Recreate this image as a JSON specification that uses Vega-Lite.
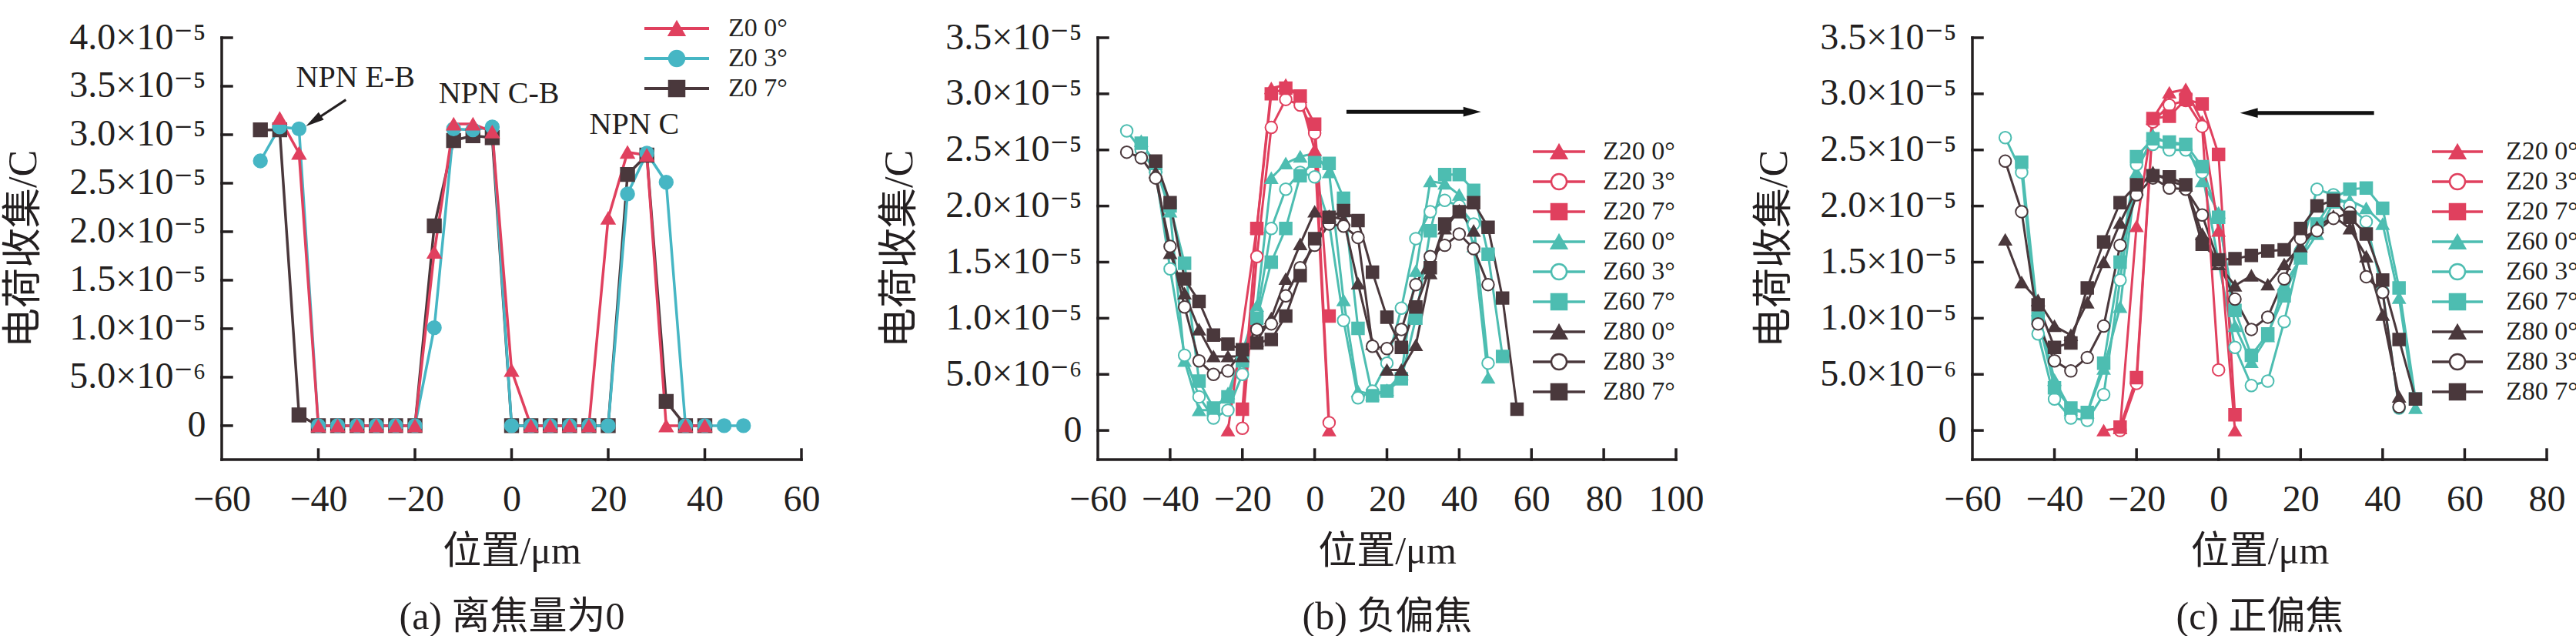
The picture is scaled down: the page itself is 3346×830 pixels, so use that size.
{
  "$schema": "https://vega.github.io/schema/vega-lite/v6.json",
  "background": "white",
  "padding": {"left": 4, "top": 20, "right": 0, "bottom": 0},
  "bounds": "flush",
  "spacing": 385,
  "datasets": {
    "a": [
      {"s":"Z0 7°","x":-52,"q":3.05},{"s":"Z0 7°","x":-48,"q":3.05},{"s":"Z0 7°","x":-44,"q":0.11},{"s":"Z0 7°","x":-40,"q":0},{"s":"Z0 7°","x":-36,"q":0},{"s":"Z0 7°","x":-32,"q":0},{"s":"Z0 7°","x":-28,"q":0},{"s":"Z0 7°","x":-24,"q":0},{"s":"Z0 7°","x":-20,"q":0},{"s":"Z0 7°","x":-16,"q":2.06},{"s":"Z0 7°","x":-12,"q":2.94},{"s":"Z0 7°","x":-8,"q":2.99},{"s":"Z0 7°","x":-4,"q":2.97},{"s":"Z0 7°","x":0,"q":0},{"s":"Z0 7°","x":4,"q":0},{"s":"Z0 7°","x":8,"q":0},{"s":"Z0 7°","x":12,"q":0},{"s":"Z0 7°","x":16,"q":0},{"s":"Z0 7°","x":20,"q":0},{"s":"Z0 7°","x":24,"q":2.59},{"s":"Z0 7°","x":28,"q":2.79},{"s":"Z0 7°","x":32,"q":0.25},{"s":"Z0 7°","x":36,"q":0},{"s":"Z0 7°","x":40,"q":0},
      {"s":"Z0 3°","x":-52,"q":2.73},{"s":"Z0 3°","x":-48,"q":3.08},{"s":"Z0 3°","x":-44,"q":3.06},{"s":"Z0 3°","x":-40,"q":0},{"s":"Z0 3°","x":-36,"q":0},{"s":"Z0 3°","x":-32,"q":0},{"s":"Z0 3°","x":-28,"q":0},{"s":"Z0 3°","x":-24,"q":0},{"s":"Z0 3°","x":-20,"q":0},{"s":"Z0 3°","x":-16,"q":1.01},{"s":"Z0 3°","x":-12,"q":3.06},{"s":"Z0 3°","x":-8,"q":3.05},{"s":"Z0 3°","x":-4,"q":3.08},{"s":"Z0 3°","x":0,"q":0},{"s":"Z0 3°","x":4,"q":0},{"s":"Z0 3°","x":8,"q":0},{"s":"Z0 3°","x":12,"q":0},{"s":"Z0 3°","x":16,"q":0},{"s":"Z0 3°","x":20,"q":0},{"s":"Z0 3°","x":24,"q":2.39},{"s":"Z0 3°","x":28,"q":2.81},{"s":"Z0 3°","x":32,"q":2.51},{"s":"Z0 3°","x":36,"q":0},{"s":"Z0 3°","x":40,"q":0},{"s":"Z0 3°","x":44,"q":0},{"s":"Z0 3°","x":48,"q":0},
      {"s":"Z0 0°","x":-48,"q":3.17},{"s":"Z0 0°","x":-44,"q":2.81},{"s":"Z0 0°","x":-40,"q":0},{"s":"Z0 0°","x":-36,"q":0},{"s":"Z0 0°","x":-32,"q":0},{"s":"Z0 0°","x":-28,"q":0},{"s":"Z0 0°","x":-24,"q":0},{"s":"Z0 0°","x":-20,"q":0},{"s":"Z0 0°","x":-16,"q":1.79},{"s":"Z0 0°","x":-12,"q":3.11},{"s":"Z0 0°","x":-8,"q":3.11},{"s":"Z0 0°","x":-4,"q":3.03},{"s":"Z0 0°","x":0,"q":0.57},{"s":"Z0 0°","x":4,"q":0},{"s":"Z0 0°","x":8,"q":0},{"s":"Z0 0°","x":12,"q":0},{"s":"Z0 0°","x":16,"q":0},{"s":"Z0 0°","x":20,"q":2.14},{"s":"Z0 0°","x":24,"q":2.82},{"s":"Z0 0°","x":28,"q":2.79},{"s":"Z0 0°","x":32,"q":0},{"s":"Z0 0°","x":36,"q":0},{"s":"Z0 0°","x":40,"q":0}
    ],
    "b": [
      {"s":"Z60 0°","x":-48,"q":2.58},{"s":"Z60 0°","x":-44,"q":2.35},{"s":"Z60 0°","x":-40,"q":1.95},{"s":"Z60 0°","x":-36,"q":0.62},{"s":"Z60 0°","x":-32,"q":0.18},{"s":"Z60 0°","x":-28,"q":0.18},{"s":"Z60 0°","x":-24,"q":0.33},{"s":"Z60 0°","x":-20,"q":0.7},{"s":"Z60 0°","x":-16,"q":1.11},{"s":"Z60 0°","x":-12,"q":2.25},{"s":"Z60 0°","x":-8,"q":2.38},{"s":"Z60 0°","x":-4,"q":2.44},{"s":"Z60 0°","x":0,"q":2.47},{"s":"Z60 0°","x":4,"q":2.3},{"s":"Z60 0°","x":8,"q":1.16},{"s":"Z60 0°","x":12,"q":0.35},{"s":"Z60 0°","x":16,"q":0.32},{"s":"Z60 0°","x":20,"q":0.36},{"s":"Z60 0°","x":24,"q":0.5},{"s":"Z60 0°","x":28,"q":1.42},{"s":"Z60 0°","x":32,"q":2.22},{"s":"Z60 0°","x":36,"q":2.2},{"s":"Z60 0°","x":40,"q":2.1},{"s":"Z60 0°","x":44,"q":1.64},{"s":"Z60 0°","x":48,"q":0.47},
      {"s":"Z60 3°","x":-52,"q":2.67},{"s":"Z60 3°","x":-48,"q":2.5},{"s":"Z60 3°","x":-44,"q":2.3},{"s":"Z60 3°","x":-40,"q":1.44},{"s":"Z60 3°","x":-36,"q":0.67},{"s":"Z60 3°","x":-32,"q":0.3},{"s":"Z60 3°","x":-28,"q":0.11},{"s":"Z60 3°","x":-24,"q":0.18},{"s":"Z60 3°","x":-20,"q":0.5},{"s":"Z60 3°","x":-16,"q":1.02},{"s":"Z60 3°","x":-12,"q":1.8},{"s":"Z60 3°","x":-8,"q":2.15},{"s":"Z60 3°","x":-4,"q":2.3},{"s":"Z60 3°","x":0,"q":2.26},{"s":"Z60 3°","x":4,"q":1.85},{"s":"Z60 3°","x":8,"q":0.98},{"s":"Z60 3°","x":12,"q":0.29},{"s":"Z60 3°","x":16,"q":0.35},{"s":"Z60 3°","x":20,"q":0.6},{"s":"Z60 3°","x":24,"q":1.09},{"s":"Z60 3°","x":28,"q":1.71},{"s":"Z60 3°","x":32,"q":1.95},{"s":"Z60 3°","x":36,"q":2.05},{"s":"Z60 3°","x":40,"q":2.0},{"s":"Z60 3°","x":44,"q":1.84},{"s":"Z60 3°","x":48,"q":0.6},
      {"s":"Z60 7°","x":-48,"q":2.56},{"s":"Z60 7°","x":-44,"q":2.38},{"s":"Z60 7°","x":-40,"q":2.0},{"s":"Z60 7°","x":-36,"q":1.49},{"s":"Z60 7°","x":-32,"q":0.44},{"s":"Z60 7°","x":-28,"q":0.2},{"s":"Z60 7°","x":-24,"q":0.3},{"s":"Z60 7°","x":-20,"q":0.62},{"s":"Z60 7°","x":-16,"q":1.0},{"s":"Z60 7°","x":-12,"q":1.5},{"s":"Z60 7°","x":-8,"q":1.8},{"s":"Z60 7°","x":-4,"q":2.27},{"s":"Z60 7°","x":0,"q":2.4},{"s":"Z60 7°","x":4,"q":2.38},{"s":"Z60 7°","x":8,"q":2.07},{"s":"Z60 7°","x":12,"q":0.91},{"s":"Z60 7°","x":16,"q":0.31},{"s":"Z60 7°","x":20,"q":0.35},{"s":"Z60 7°","x":24,"q":0.46},{"s":"Z60 7°","x":28,"q":1.0},{"s":"Z60 7°","x":32,"q":1.78},{"s":"Z60 7°","x":36,"q":2.28},{"s":"Z60 7°","x":40,"q":2.28},{"s":"Z60 7°","x":44,"q":2.14},{"s":"Z60 7°","x":48,"q":1.57},{"s":"Z60 7°","x":52,"q":0.66},
      {"s":"Z80 0°","x":-44,"q":2.3},{"s":"Z80 0°","x":-40,"q":1.58},{"s":"Z80 0°","x":-36,"q":1.22},{"s":"Z80 0°","x":-32,"q":0.9},{"s":"Z80 0°","x":-28,"q":0.66},{"s":"Z80 0°","x":-24,"q":0.66},{"s":"Z80 0°","x":-20,"q":0.66},{"s":"Z80 0°","x":-16,"q":0.8},{"s":"Z80 0°","x":-12,"q":1.0},{"s":"Z80 0°","x":-8,"q":1.35},{"s":"Z80 0°","x":-4,"q":1.66},{"s":"Z80 0°","x":0,"q":1.95},{"s":"Z80 0°","x":4,"q":1.91},{"s":"Z80 0°","x":8,"q":1.88},{"s":"Z80 0°","x":12,"q":1.31},{"s":"Z80 0°","x":16,"q":0.77},{"s":"Z80 0°","x":20,"q":0.54},{"s":"Z80 0°","x":24,"q":0.54},{"s":"Z80 0°","x":28,"q":0.76},{"s":"Z80 0°","x":32,"q":1.4},{"s":"Z80 0°","x":36,"q":1.8},{"s":"Z80 0°","x":40,"q":1.96},{"s":"Z80 0°","x":44,"q":1.78},
      {"s":"Z80 3°","x":-52,"q":2.48},{"s":"Z80 3°","x":-48,"q":2.43},{"s":"Z80 3°","x":-44,"q":2.25},{"s":"Z80 3°","x":-40,"q":1.64},{"s":"Z80 3°","x":-36,"q":1.1},{"s":"Z80 3°","x":-32,"q":0.62},{"s":"Z80 3°","x":-28,"q":0.5},{"s":"Z80 3°","x":-24,"q":0.53},{"s":"Z80 3°","x":-20,"q":0.72},{"s":"Z80 3°","x":-16,"q":0.9},{"s":"Z80 3°","x":-12,"q":0.95},{"s":"Z80 3°","x":-8,"q":1.2},{"s":"Z80 3°","x":-4,"q":1.45},{"s":"Z80 3°","x":0,"q":1.65},{"s":"Z80 3°","x":4,"q":1.84},{"s":"Z80 3°","x":8,"q":1.82},{"s":"Z80 3°","x":12,"q":1.72},{"s":"Z80 3°","x":16,"q":0.75},{"s":"Z80 3°","x":20,"q":0.73},{"s":"Z80 3°","x":24,"q":0.9},{"s":"Z80 3°","x":28,"q":1.3},{"s":"Z80 3°","x":32,"q":1.55},{"s":"Z80 3°","x":36,"q":1.65},{"s":"Z80 3°","x":40,"q":1.75},{"s":"Z80 3°","x":44,"q":1.62},{"s":"Z80 3°","x":48,"q":1.3},
      {"s":"Z80 7°","x":-44,"q":2.4},{"s":"Z80 7°","x":-40,"q":2.03},{"s":"Z80 7°","x":-36,"q":1.35},{"s":"Z80 7°","x":-32,"q":1.15},{"s":"Z80 7°","x":-28,"q":0.85},{"s":"Z80 7°","x":-24,"q":0.77},{"s":"Z80 7°","x":-20,"q":0.72},{"s":"Z80 7°","x":-16,"q":0.78},{"s":"Z80 7°","x":-12,"q":0.81},{"s":"Z80 7°","x":-8,"q":1.02},{"s":"Z80 7°","x":-4,"q":1.38},{"s":"Z80 7°","x":0,"q":1.71},{"s":"Z80 7°","x":4,"q":1.9},{"s":"Z80 7°","x":8,"q":1.96},{"s":"Z80 7°","x":12,"q":1.87},{"s":"Z80 7°","x":16,"q":1.41},{"s":"Z80 7°","x":20,"q":1.01},{"s":"Z80 7°","x":24,"q":0.74},{"s":"Z80 7°","x":28,"q":1.1},{"s":"Z80 7°","x":32,"q":1.45},{"s":"Z80 7°","x":36,"q":1.84},{"s":"Z80 7°","x":40,"q":1.95},{"s":"Z80 7°","x":44,"q":2.03},{"s":"Z80 7°","x":48,"q":1.81},{"s":"Z80 7°","x":52,"q":1.18},{"s":"Z80 7°","x":56,"q":0.19},
      {"s":"Z20 0°","x":-24,"q":0},{"s":"Z20 0°","x":-16,"q":1.81},{"s":"Z20 0°","x":-12,"q":3.05},{"s":"Z20 0°","x":-8,"q":3.08},{"s":"Z20 0°","x":-4,"q":2.97},{"s":"Z20 0°","x":0,"q":2.5},{"s":"Z20 0°","x":4,"q":0},
      {"s":"Z20 3°","x":-20,"q":0.02},{"s":"Z20 3°","x":-16,"q":1.55},{"s":"Z20 3°","x":-12,"q":2.7},{"s":"Z20 3°","x":-8,"q":2.95},{"s":"Z20 3°","x":-4,"q":2.9},{"s":"Z20 3°","x":0,"q":2.65},{"s":"Z20 3°","x":4,"q":0.07},
      {"s":"Z20 7°","x":-20,"q":0.19},{"s":"Z20 7°","x":-16,"q":1.8},{"s":"Z20 7°","x":-12,"q":3.0},{"s":"Z20 7°","x":-8,"q":3.05},{"s":"Z20 7°","x":-4,"q":2.98},{"s":"Z20 7°","x":0,"q":2.73},{"s":"Z20 7°","x":4,"q":1.02}
    ],
    "c": [
      {"s":"Z60 0°","x":-44,"q":1.07},{"s":"Z60 0°","x":-40,"q":0.45},{"s":"Z60 0°","x":-36,"q":0.18},{"s":"Z60 0°","x":-32,"q":0.16},{"s":"Z60 0°","x":-28,"q":0.55},{"s":"Z60 0°","x":-24,"q":1.1},{"s":"Z60 0°","x":-20,"q":2.3},{"s":"Z60 0°","x":-16,"q":2.63},{"s":"Z60 0°","x":-12,"q":2.55},{"s":"Z60 0°","x":-8,"q":2.55},{"s":"Z60 0°","x":-4,"q":2.22},{"s":"Z60 0°","x":0,"q":1.94},{"s":"Z60 0°","x":4,"q":0.93},{"s":"Z60 0°","x":8,"q":0.61},{"s":"Z60 0°","x":12,"q":0.84},{"s":"Z60 0°","x":16,"q":1.3},{"s":"Z60 0°","x":20,"q":1.53},{"s":"Z60 0°","x":24,"q":1.75},{"s":"Z60 0°","x":28,"q":2.03},{"s":"Z60 0°","x":32,"q":2.05},{"s":"Z60 0°","x":36,"q":1.98},{"s":"Z60 0°","x":40,"q":1.84},{"s":"Z60 0°","x":44,"q":1.18},{"s":"Z60 0°","x":48,"q":0.2},
      {"s":"Z60 3°","x":-52,"q":2.61},{"s":"Z60 3°","x":-48,"q":2.3},{"s":"Z60 3°","x":-44,"q":0.86},{"s":"Z60 3°","x":-40,"q":0.28},{"s":"Z60 3°","x":-36,"q":0.11},{"s":"Z60 3°","x":-32,"q":0.09},{"s":"Z60 3°","x":-28,"q":0.32},{"s":"Z60 3°","x":-24,"q":1.34},{"s":"Z60 3°","x":-20,"q":2.37},{"s":"Z60 3°","x":-16,"q":2.55},{"s":"Z60 3°","x":-12,"q":2.5},{"s":"Z60 3°","x":-8,"q":2.5},{"s":"Z60 3°","x":-4,"q":2.3},{"s":"Z60 3°","x":0,"q":1.5},{"s":"Z60 3°","x":4,"q":0.74},{"s":"Z60 3°","x":8,"q":0.4},{"s":"Z60 3°","x":12,"q":0.44},{"s":"Z60 3°","x":16,"q":0.97},{"s":"Z60 3°","x":20,"q":1.6},{"s":"Z60 3°","x":24,"q":2.15},{"s":"Z60 3°","x":28,"q":2.1},{"s":"Z60 3°","x":32,"q":2.0},{"s":"Z60 3°","x":36,"q":1.86},{"s":"Z60 3°","x":40,"q":1.24},{"s":"Z60 3°","x":44,"q":0.2},
      {"s":"Z60 7°","x":-48,"q":2.39},{"s":"Z60 7°","x":-44,"q":1.0},{"s":"Z60 7°","x":-40,"q":0.38},{"s":"Z60 7°","x":-36,"q":0.2},{"s":"Z60 7°","x":-32,"q":0.16},{"s":"Z60 7°","x":-28,"q":0.6},{"s":"Z60 7°","x":-24,"q":1.5},{"s":"Z60 7°","x":-20,"q":2.44},{"s":"Z60 7°","x":-16,"q":2.6},{"s":"Z60 7°","x":-12,"q":2.57},{"s":"Z60 7°","x":-8,"q":2.55},{"s":"Z60 7°","x":-4,"q":2.35},{"s":"Z60 7°","x":0,"q":1.9},{"s":"Z60 7°","x":4,"q":1.07},{"s":"Z60 7°","x":8,"q":0.67},{"s":"Z60 7°","x":12,"q":0.86},{"s":"Z60 7°","x":16,"q":1.2},{"s":"Z60 7°","x":20,"q":1.55},{"s":"Z60 7°","x":24,"q":1.84},{"s":"Z60 7°","x":28,"q":2.07},{"s":"Z60 7°","x":32,"q":2.15},{"s":"Z60 7°","x":36,"q":2.16},{"s":"Z60 7°","x":40,"q":1.98},{"s":"Z60 7°","x":44,"q":1.27},{"s":"Z60 7°","x":48,"q":0.28},
      {"s":"Z80 0°","x":-52,"q":1.7},{"s":"Z80 0°","x":-48,"q":1.32},{"s":"Z80 0°","x":-44,"q":1.16},{"s":"Z80 0°","x":-40,"q":0.93},{"s":"Z80 0°","x":-36,"q":0.85},{"s":"Z80 0°","x":-32,"q":1.14},{"s":"Z80 0°","x":-28,"q":1.5},{"s":"Z80 0°","x":-24,"q":1.85},{"s":"Z80 0°","x":-20,"q":2.15},{"s":"Z80 0°","x":-16,"q":2.3},{"s":"Z80 0°","x":-12,"q":2.22},{"s":"Z80 0°","x":-8,"q":2.18},{"s":"Z80 0°","x":-4,"q":1.75},{"s":"Z80 0°","x":0,"q":1.48},{"s":"Z80 0°","x":4,"q":1.29},{"s":"Z80 0°","x":8,"q":1.38},{"s":"Z80 0°","x":12,"q":1.3},{"s":"Z80 0°","x":16,"q":1.48},{"s":"Z80 0°","x":20,"q":1.64},{"s":"Z80 0°","x":24,"q":1.81},{"s":"Z80 0°","x":28,"q":1.91},{"s":"Z80 0°","x":32,"q":1.8},{"s":"Z80 0°","x":36,"q":1.55},{"s":"Z80 0°","x":40,"q":1.03},{"s":"Z80 0°","x":44,"q":0.3},
      {"s":"Z80 3°","x":-52,"q":2.4},{"s":"Z80 3°","x":-48,"q":1.95},{"s":"Z80 3°","x":-44,"q":0.95},{"s":"Z80 3°","x":-40,"q":0.62},{"s":"Z80 3°","x":-36,"q":0.53},{"s":"Z80 3°","x":-32,"q":0.65},{"s":"Z80 3°","x":-28,"q":0.93},{"s":"Z80 3°","x":-24,"q":1.65},{"s":"Z80 3°","x":-20,"q":2.1},{"s":"Z80 3°","x":-16,"q":2.25},{"s":"Z80 3°","x":-12,"q":2.16},{"s":"Z80 3°","x":-8,"q":2.15},{"s":"Z80 3°","x":-4,"q":1.92},{"s":"Z80 3°","x":0,"q":1.5},{"s":"Z80 3°","x":4,"q":1.17},{"s":"Z80 3°","x":8,"q":0.9},{"s":"Z80 3°","x":12,"q":1.01},{"s":"Z80 3°","x":16,"q":1.35},{"s":"Z80 3°","x":20,"q":1.71},{"s":"Z80 3°","x":24,"q":1.78},{"s":"Z80 3°","x":28,"q":1.89},{"s":"Z80 3°","x":32,"q":1.94},{"s":"Z80 3°","x":36,"q":1.37},{"s":"Z80 3°","x":40,"q":1.23},{"s":"Z80 3°","x":44,"q":0.21},
      {"s":"Z80 7°","x":-44,"q":1.12},{"s":"Z80 7°","x":-40,"q":0.74},{"s":"Z80 7°","x":-36,"q":0.78},{"s":"Z80 7°","x":-32,"q":1.27},{"s":"Z80 7°","x":-28,"q":1.68},{"s":"Z80 7°","x":-24,"q":2.03},{"s":"Z80 7°","x":-20,"q":2.19},{"s":"Z80 7°","x":-16,"q":2.27},{"s":"Z80 7°","x":-12,"q":2.26},{"s":"Z80 7°","x":-8,"q":2.19},{"s":"Z80 7°","x":-4,"q":1.66},{"s":"Z80 7°","x":0,"q":1.52},{"s":"Z80 7°","x":4,"q":1.53},{"s":"Z80 7°","x":8,"q":1.56},{"s":"Z80 7°","x":12,"q":1.6},{"s":"Z80 7°","x":16,"q":1.61},{"s":"Z80 7°","x":20,"q":1.8},{"s":"Z80 7°","x":24,"q":2.0},{"s":"Z80 7°","x":28,"q":2.05},{"s":"Z80 7°","x":32,"q":1.9},{"s":"Z80 7°","x":36,"q":1.75},{"s":"Z80 7°","x":40,"q":1.34},{"s":"Z80 7°","x":44,"q":0.81},{"s":"Z80 7°","x":48,"q":0.28},
      {"s":"Z20 0°","x":-28,"q":0},{"s":"Z20 0°","x":-24,"q":0.02},{"s":"Z20 0°","x":-20,"q":1.82},{"s":"Z20 0°","x":-16,"q":2.78},{"s":"Z20 0°","x":-12,"q":3.01},{"s":"Z20 0°","x":-8,"q":3.04},{"s":"Z20 0°","x":-4,"q":2.75},{"s":"Z20 0°","x":0,"q":1.78},{"s":"Z20 0°","x":4,"q":0},
      {"s":"Z20 3°","x":-24,"q":0},{"s":"Z20 3°","x":-20,"q":0.42},{"s":"Z20 3°","x":-16,"q":2.75},{"s":"Z20 3°","x":-12,"q":2.9},{"s":"Z20 3°","x":-8,"q":2.94},{"s":"Z20 3°","x":-4,"q":2.71},{"s":"Z20 3°","x":0,"q":0.54},
      {"s":"Z20 7°","x":-24,"q":0.03},{"s":"Z20 7°","x":-20,"q":0.47},{"s":"Z20 7°","x":-16,"q":2.78},{"s":"Z20 7°","x":-12,"q":2.8},{"s":"Z20 7°","x":-8,"q":2.95},{"s":"Z20 7°","x":-4,"q":2.91},{"s":"Z20 7°","x":0,"q":2.46},{"s":"Z20 7°","x":4,"q":0.14}
    ]
  },
  "resolve": {"scale": {"color": "independent", "stroke": "independent", "fill": "independent", "shape": "independent"}},
  "hconcat": [
    {
      "width": 753,
      "height": 548,
      "encoding": {
        "x": {"field": "x", "type": "quantitative", "scale": {"domain": [-60, 60], "nice": false, "zero": false}, "axis": {"values": [-60, -40, -20, 0, 20, 40, 60], "title": ["位置/μm", "(a) 离焦量为0"]}},
        "y": {"field": "q", "type": "quantitative", "scale": {"domain": [-0.35, 4.0], "nice": false, "zero": false}, "axis": {"values": [0, 0.5, 1, 1.5, 2, 2.5, 3, 3.5, 4], "title": "电荷收集/C", "labelExpr": "datum.value == 0 ? '0' : datum.value < 0.9 ? format(datum.value * 10, '.1f') + '×10⁻⁶' : format(datum.value, '.1f') + '×10⁻⁵'"}}
      },
      "layer": [
        {
          "data": {"values": [
            {"x": -60, "q": -0.35, "xe": -60, "qe": 4.0}, {"x": -60, "q": -0.35, "xe": 60, "qe": -0.35},
            {"x": -40, "q": -0.35, "xe": -40, "qe": -0.247}, {"x": -20, "q": -0.35, "xe": -20, "qe": -0.247}, {"x": 0, "q": -0.35, "xe": 0, "qe": -0.247}, {"x": 20, "q": -0.35, "xe": 20, "qe": -0.247}, {"x": 40, "q": -0.35, "xe": 40, "qe": -0.247}, {"x": 60, "q": -0.35, "xe": 60, "qe": -0.247},
            {"x": -60, "q": 0, "xe": -57.93, "qe": 0}, {"x": -60, "q": 0.5, "xe": -57.93, "qe": 0.5}, {"x": -60, "q": 1, "xe": -57.93, "qe": 1}, {"x": -60, "q": 1.5, "xe": -57.93, "qe": 1.5}, {"x": -60, "q": 2, "xe": -57.93, "qe": 2}, {"x": -60, "q": 2.5, "xe": -57.93, "qe": 2.5}, {"x": -60, "q": 3, "xe": -57.93, "qe": 3}, {"x": -60, "q": 3.5, "xe": -57.93, "qe": 3.5}, {"x": -60, "q": 4, "xe": -57.93, "qe": 4}
          ]},
          "mark": {"type": "rule", "strokeWidth": 3.5, "color": "#231f20", "strokeCap": "square"},
          "encoding": {"x2": {"field": "xe"}, "y2": {"field": "qe"}}
        },
        {
          "data": {"name": "a"},
          "mark": {"type": "line", "strokeWidth": 3.5},
          "encoding": {
            "color": {"field": "s", "type": "nominal", "scale": {"domain": ["Z0 7°", "Z0 3°", "Z0 0°"], "range": ["#4a383c", "#46b6c4", "#e0405e"]},
              "legend": {"orient": "none", "legendX": 574, "legendY": -29, "labelOffset": 50, "values": ["Z0 0°", "Z0 3°", "Z0 7°"], "symbolType": "M-4.2,0L4.2,0", "symbolStrokeWidth": 4, "labelOpacity": 0}}
          }
        },
        {
          "data": {"name": "a"},
          "mark": {"type": "point", "filled": true, "size": 320, "strokeWidth": 1.5, "opacity": 1},
          "encoding": {
            "stroke": {"field": "s", "type": "nominal", "scale": {"domain": ["Z0 0°", "Z0 3°", "Z0 7°"], "range": ["#e0405e", "#46b6c4", "#4a383c"]},
              "legend": {"orient": "none", "legendX": 574, "legendY": -29, "labelOffset": 50}},
            "fill": {"field": "s", "type": "nominal", "scale": {"domain": ["Z0 0°", "Z0 3°", "Z0 7°"], "range": ["#e0405e", "#46b6c4", "#4a383c"]}},
            "shape": {"field": "s", "type": "nominal", "scale": {"domain": ["Z0 0°", "Z0 3°", "Z0 7°"], "range": ["triangle-up", "circle", "square"]}}
          }
        },
        {
          "data": {"values": [{"t": "NPN E-B", "x": -32.3, "q": 3.59}, {"t": "NPN C-B", "x": -2.6, "q": 3.42}, {"t": "NPN C", "x": 25.4, "q": 3.1}]},
          "mark": {"type": "text", "font": "Liberation Serif", "fontSize": 40, "color": "#231f20", "baseline": "middle"},
          "encoding": {"text": {"field": "t"}}
        },
        {
          "data": {"values": [{"x": -34.3, "q": 3.36, "xe": -41.0, "qe": 3.14}]},
          "mark": {"type": "rule", "strokeWidth": 3, "color": "#231f20"},
          "encoding": {"x2": {"field": "xe"}, "y2": {"field": "qe"}}
        },
        {
          "data": {"values": [{"x": -41.0, "q": 3.14}]},
          "mark": {"type": "point", "shape": "M1,0L-1,-0.5L-1,0.5Z", "filled": true, "color": "#231f20", "size": 576, "angle": 146, "opacity": 1},
          "encoding": {}
        }
      ]
    },
    {
      "width": 751,
      "height": 548,
      "encoding": {
        "x": {"field": "x", "type": "quantitative", "scale": {"domain": [-60, 100], "nice": false, "zero": false}, "axis": {"values": [-60, -40, -20, 0, 20, 40, 60, 80, 100], "title": ["位置/μm", "(b) 负偏焦"]}},
        "y": {"field": "q", "type": "quantitative", "scale": {"domain": [-0.26, 3.5], "nice": false, "zero": false}, "axis": {"values": [0, 0.5, 1, 1.5, 2, 2.5, 3, 3.5], "title": "电荷收集/C", "labelExpr": "datum.value == 0 ? '0' : datum.value < 0.9 ? format(datum.value * 10, '.1f') + '×10⁻⁶' : format(datum.value, '.1f') + '×10⁻⁵'"}}
      },
      "layer": [
        {
          "data": {"values": [
            {"x": -60, "q": -0.26, "xe": -60, "qe": 3.5}, {"x": -60, "q": -0.26, "xe": 100, "qe": -0.26},
            {"x": -40, "q": -0.26, "xe": -40, "qe": -0.171}, {"x": -20, "q": -0.26, "xe": -20, "qe": -0.171}, {"x": 0, "q": -0.26, "xe": 0, "qe": -0.171}, {"x": 20, "q": -0.26, "xe": 20, "qe": -0.171}, {"x": 40, "q": -0.26, "xe": 40, "qe": -0.171}, {"x": 60, "q": -0.26, "xe": 60, "qe": -0.171}, {"x": 80, "q": -0.26, "xe": 80, "qe": -0.171}, {"x": 100, "q": -0.26, "xe": 100, "qe": -0.171},
            {"x": -60, "q": 0, "xe": -57.23, "qe": 0}, {"x": -60, "q": 0.5, "xe": -57.23, "qe": 0.5}, {"x": -60, "q": 1, "xe": -57.23, "qe": 1}, {"x": -60, "q": 1.5, "xe": -57.23, "qe": 1.5}, {"x": -60, "q": 2, "xe": -57.23, "qe": 2}, {"x": -60, "q": 2.5, "xe": -57.23, "qe": 2.5}, {"x": -60, "q": 3, "xe": -57.23, "qe": 3}, {"x": -60, "q": 3.5, "xe": -57.23, "qe": 3.5}
          ]},
          "mark": {"type": "rule", "strokeWidth": 3.5, "color": "#231f20", "strokeCap": "square"},
          "encoding": {"x2": {"field": "xe"}, "y2": {"field": "qe"}}
        },
        {
          "data": {"name": "b"},
          "mark": {"type": "line", "strokeWidth": 3},
          "encoding": {
            "color": {"field": "s", "type": "nominal", "scale": {"domain": ["Z80 7°", "Z80 3°", "Z80 0°", "Z60 7°", "Z60 3°", "Z60 0°", "Z20 7°", "Z20 3°", "Z20 0°"], "range": ["#4a383c", "#4a383c", "#4a383c", "#4dbdb1", "#4dbdb1", "#4dbdb1", "#e0405e", "#e0405e", "#e0405e"]},
              "legend": {"orient": "none", "legendX": 582, "legendY": 131, "labelOffset": 40, "values": ["Z20 0°", "Z20 3°", "Z20 7°", "Z60 0°", "Z60 3°", "Z60 7°", "Z80 0°", "Z80 3°", "Z80 7°"], "symbolType": "M-3.4,0L3.4,0", "symbolStrokeWidth": 3.5, "labelOpacity": 0}}
          }
        },
        {
          "data": {"name": "b"},
          "mark": {"type": "point", "filled": true, "size": 240, "strokeWidth": 2, "opacity": 1},
          "encoding": {
            "stroke": {"field": "s", "type": "nominal", "scale": {"domain": ["Z20 0°", "Z20 3°", "Z20 7°", "Z60 0°", "Z60 3°", "Z60 7°", "Z80 0°", "Z80 3°", "Z80 7°"], "range": ["#e0405e", "#e0405e", "#e0405e", "#4dbdb1", "#4dbdb1", "#4dbdb1", "#4a383c", "#4a383c", "#4a383c"]},
              "legend": {"orient": "none", "legendX": 582, "legendY": 131, "labelOffset": 40}},
            "fill": {"field": "s", "type": "nominal", "scale": {"domain": ["Z20 0°", "Z20 3°", "Z20 7°", "Z60 0°", "Z60 3°", "Z60 7°", "Z80 0°", "Z80 3°", "Z80 7°"], "range": ["#e0405e", "#ffffff", "#e0405e", "#4dbdb1", "#ffffff", "#4dbdb1", "#4a383c", "#ffffff", "#4a383c"]}},
            "shape": {"field": "s", "type": "nominal", "scale": {"domain": ["Z20 0°", "Z20 3°", "Z20 7°", "Z60 0°", "Z60 3°", "Z60 7°", "Z80 0°", "Z80 3°", "Z80 7°"], "range": ["triangle-up", "circle", "square", "triangle-up", "circle", "square", "triangle-up", "circle", "square"]}}
          }
        },
        {
          "data": {"values": [{"x": 8.8, "q": 2.84, "xe": 43.6}]},
          "mark": {"type": "rule", "strokeWidth": 5, "color": "#111111"},
          "encoding": {"x2": {"field": "xe"}}
        },
        {
          "data": {"values": [{"x": 43.6, "q": 2.84}]},
          "mark": {"type": "point", "shape": "M1,0L-1,-0.55L-1,0.55Z", "filled": true, "color": "#111111", "size": 529, "opacity": 1},
          "encoding": {}
        }
      ]
    },
    {
      "width": 746,
      "height": 548,
      "encoding": {
        "x": {"field": "x", "type": "quantitative", "scale": {"domain": [-60, 80], "nice": false, "zero": false}, "axis": {"values": [-60, -40, -20, 0, 20, 40, 60, 80], "title": ["位置/μm", "(c) 正偏焦"]}},
        "y": {"field": "q", "type": "quantitative", "scale": {"domain": [-0.26, 3.5], "nice": false, "zero": false}, "axis": {"values": [0, 0.5, 1, 1.5, 2, 2.5, 3, 3.5], "title": "电荷收集/C", "labelExpr": "datum.value == 0 ? '0' : datum.value < 0.9 ? format(datum.value * 10, '.1f') + '×10⁻⁶' : format(datum.value, '.1f') + '×10⁻⁵'"}}
      },
      "layer": [
        {
          "data": {"values": [
            {"x": -60, "q": -0.26, "xe": -60, "qe": 3.5}, {"x": -60, "q": -0.26, "xe": 80, "qe": -0.26},
            {"x": -40, "q": -0.26, "xe": -40, "qe": -0.171}, {"x": -20, "q": -0.26, "xe": -20, "qe": -0.171}, {"x": 0, "q": -0.26, "xe": 0, "qe": -0.171}, {"x": 20, "q": -0.26, "xe": 20, "qe": -0.171}, {"x": 40, "q": -0.26, "xe": 40, "qe": -0.171}, {"x": 60, "q": -0.26, "xe": 60, "qe": -0.171}, {"x": 80, "q": -0.26, "xe": 80, "qe": -0.171},
            {"x": -60, "q": 0, "xe": -57.56, "qe": 0}, {"x": -60, "q": 0.5, "xe": -57.56, "qe": 0.5}, {"x": -60, "q": 1, "xe": -57.56, "qe": 1}, {"x": -60, "q": 1.5, "xe": -57.56, "qe": 1.5}, {"x": -60, "q": 2, "xe": -57.56, "qe": 2}, {"x": -60, "q": 2.5, "xe": -57.56, "qe": 2.5}, {"x": -60, "q": 3, "xe": -57.56, "qe": 3}, {"x": -60, "q": 3.5, "xe": -57.56, "qe": 3.5}
          ]},
          "mark": {"type": "rule", "strokeWidth": 3.5, "color": "#231f20", "strokeCap": "square"},
          "encoding": {"x2": {"field": "xe"}, "y2": {"field": "qe"}}
        },
        {
          "data": {"name": "c"},
          "mark": {"type": "line", "strokeWidth": 3},
          "encoding": {
            "color": {"field": "s", "type": "nominal", "scale": {"domain": ["Z80 7°", "Z80 3°", "Z80 0°", "Z60 7°", "Z60 3°", "Z60 0°", "Z20 7°", "Z20 3°", "Z20 0°"], "range": ["#4a383c", "#4a383c", "#4a383c", "#4dbdb1", "#4dbdb1", "#4dbdb1", "#e0405e", "#e0405e", "#e0405e"]},
              "legend": {"orient": "none", "legendX": 613, "legendY": 131, "labelOffset": 46, "values": ["Z20 0°", "Z20 3°", "Z20 7°", "Z60 0°", "Z60 3°", "Z60 7°", "Z80 0°", "Z80 3°", "Z80 7°"], "symbolType": "M-3.3,0L3.3,0", "symbolStrokeWidth": 3.5, "labelOpacity": 0}}
          }
        },
        {
          "data": {"name": "c"},
          "mark": {"type": "point", "filled": true, "size": 240, "strokeWidth": 2, "opacity": 1},
          "encoding": {
            "stroke": {"field": "s", "type": "nominal", "scale": {"domain": ["Z20 0°", "Z20 3°", "Z20 7°", "Z60 0°", "Z60 3°", "Z60 7°", "Z80 0°", "Z80 3°", "Z80 7°"], "range": ["#e0405e", "#e0405e", "#e0405e", "#4dbdb1", "#4dbdb1", "#4dbdb1", "#4a383c", "#4a383c", "#4a383c"]},
              "legend": {"orient": "none", "legendX": 613, "legendY": 131, "labelOffset": 46}},
            "fill": {"field": "s", "type": "nominal", "scale": {"domain": ["Z20 0°", "Z20 3°", "Z20 7°", "Z60 0°", "Z60 3°", "Z60 7°", "Z80 0°", "Z80 3°", "Z80 7°"], "range": ["#e0405e", "#ffffff", "#e0405e", "#4dbdb1", "#ffffff", "#4dbdb1", "#4a383c", "#ffffff", "#4a383c"]}},
            "shape": {"field": "s", "type": "nominal", "scale": {"domain": ["Z20 0°", "Z20 3°", "Z20 7°", "Z60 0°", "Z60 3°", "Z60 7°", "Z80 0°", "Z80 3°", "Z80 7°"], "range": ["triangle-up", "circle", "square", "triangle-up", "circle", "square", "triangle-up", "circle", "square"]}}
          }
        },
        {
          "data": {"values": [{"x": 7.4, "q": 2.83, "xe": 37.9}]},
          "mark": {"type": "rule", "strokeWidth": 5, "color": "#111111"},
          "encoding": {"x2": {"field": "xe"}}
        },
        {
          "data": {"values": [{"x": 7.4, "q": 2.83}]},
          "mark": {"type": "point", "shape": "M1,0L-1,-0.55L-1,0.55Z", "filled": true, "color": "#111111", "size": 529, "angle": 180, "opacity": 1},
          "encoding": {}
        }
      ]
    }
  ],
  "config": {
    "view": {"stroke": null},
    "axis": {
      "domain": false, "ticks": false, "grid": false, "labelOverlap": false, "labelFlush": false,
      "labelFont": "Liberation Serif, DejaVu Serif", "labelFontSize": 48, "labelColor": "#231f20",
      "titleFont": "Liberation Serif, Noto Sans CJK SC", "titleFontSize": 50, "titleFontWeight": "normal", "titleColor": "#231f20"
    },
    "axisY": {"labelPadding": 21, "titleAngle": -90, "titleX": -258, "titleY": 274, "titleAlign": "center", "titleBaseline": "middle", "titleFontSize": 52},
    "axisX": {"labelPadding": 28, "labelAngle": 0, "labelBaseline": "top", "titleY": 119, "titleLineHeight": 85, "titleBaseline": "middle"},
    "legend": {"title": null, "padding": 0, "rowPadding": 5, "symbolSize": 400, "symbolStrokeWidth": 2.5, "labelFont": "Liberation Serif", "labelFontSize": 34, "labelColor": "#231f20", "labelLimit": 0}
  }
}
